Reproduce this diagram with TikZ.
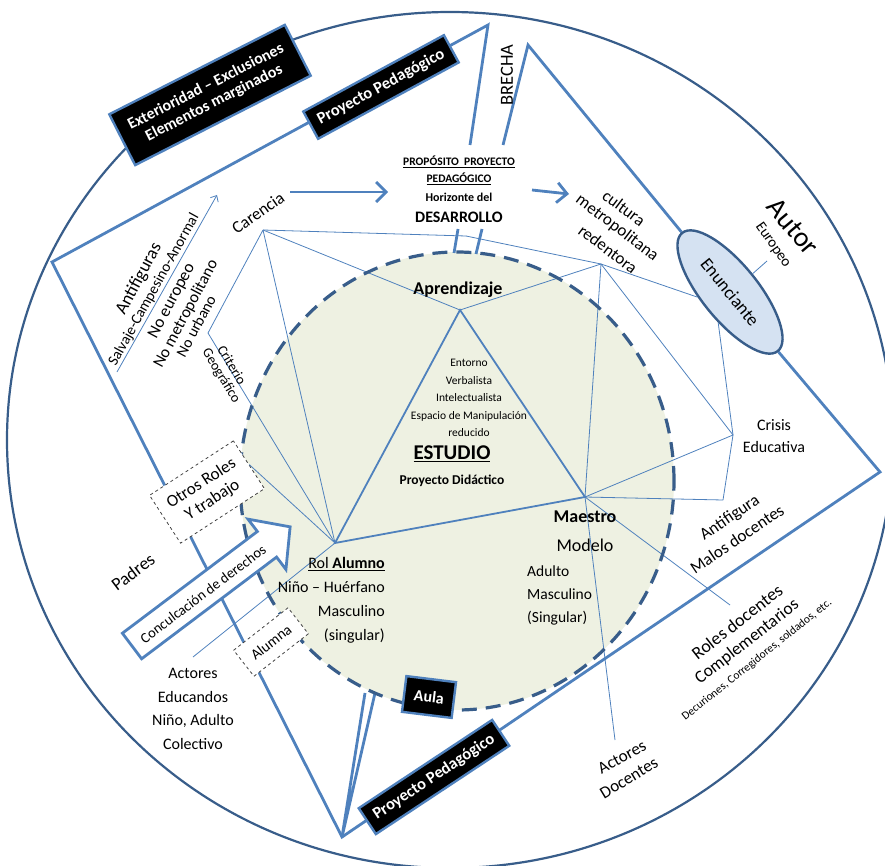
\documentclass[tikz,border=0pt]{standalone}
\usepackage{fontspec}
\setmainfont{Carlito}
\usetikzlibrary{positioning, shapes.geometric, arrows.meta, calc}

\definecolor{lineblue}{RGB}{79,129,189}
\definecolor{ringblue}{RGB}{56,93,138}
\definecolor{aulafill}{RGB}{238,241,226}
\definecolor{enunfill}{RGB}{213,226,242}

\tikzset{
  sz/.style 2 args={font=\fontsize{#1}{#2}\selectfont},
  bsz/.style 2 args={font=\fontsize{#1}{#2}\selectfont\bfseries},
  txt/.style={inner sep=1pt, align=center},
  thickline/.style={draw=lineblue, line width=2.8pt},
  midline/.style={draw=lineblue, line width=1.8pt},
  thinline/.style={draw=lineblue, line width=0.8pt},
  blackbox/.style={draw=lineblue, line width=2.4pt, fill=black, text=white, align=center, inner sep=2pt},
  dashbox/.style={draw=black!75, dashed, line width=0.8pt, fill=white, align=center, inner sep=1pt},
}

\begin{document}
\begin{tikzpicture}[x=1pt, y=-1pt]
  \useasboundingbox (0,0) rectangle (885,866);

  % Rings
  \draw[ringblue, line width=2.2pt] (450,440) ellipse [x radius=443pt, y radius=428pt];
  \fill[aulafill] (457,481) ellipse [x radius=217pt, y radius=229pt];

  % Points
  \foreach \n/\p in {car/{263,230}, des/{466,236}, apr/{460,310}, cul/{601,264},
                     geo/{208,333}, alu/{335,543}, mae/{585,497}, cri/{733,435},
                     mal/{723,500}, rdl/{730,605}, adl/{615,740}, ael/{193,657},
                     eul/{767,261}, ar1s/{290,192}, ar1e/{388,192}, ar2s/{532,190},
                     ar2e/{569,194}, afs/{117,372}, afe/{217,195}}
  \coordinate (\n) at (\p);
  \foreach \n/\p in {pa/{52,262}, pb/{488,25}, pc/{470,145}, pd/{503,145},
                     pe/{528,45}, pf/{880,472}, pg/{342,837},
                     pc1/{458,229}, pc2/{454,253}, pd1/{482,229}, pd2/{476,254},
                     pg1/{365,693}, pg2/{375,693}}
  \coordinate (\n) at (\p);

  % Enunciante
  \node[ellipse, draw=ringblue, line width=2.4pt, fill=enunfill, rotate=-51,
        minimum width=152pt, minimum height=56pt, inner sep=0pt, sz={18}{20}] (enun) at (730,292) {Enunciante};

  % Proyecto pedagogico
  \draw[thickline] (pc) -- (pb) -- (pa) -- (pg) -- (pf) -- (enun.east);
  \draw[thickline] (enun.west) -- (pe) -- (pd);
  \draw[thickline] (pc1) -- (pc2);
  \draw[thickline] (pd1) -- (pd2);
  \draw[thickline] (pg1) -- (pg) -- (pg2);

  % Thin links
  \foreach \a/\b in {car/des, des/cul, car/apr, apr/cul, car/geo, car/alu, geo/alu,
                     cul/cri, cul/mae, cri/mae, cri/mal, mal/mae, mae/rdl, mae/adl, alu/ael}
  \draw[thinline] (\a) -- (\b);
  \draw[thinline] (cul) -- (enun.-120);
  \draw[thinline] (enun.-60) -- (cri);
  \draw[thinline] (eul) -- (enun.north);
  \draw[midline] (apr) -- (alu) -- (mae) -- cycle;

  % Aula border
  \draw[ringblue, line width=3.2pt, dash pattern=on 15pt off 9pt] (457,481) ellipse [x radius=217pt, y radius=229pt];

  % Arrows
  \draw[thickline, -{Straight Barb[length=10pt, width=20pt]}] (ar1s) -- (ar1e);
  \draw[thickline, -{Straight Barb[length=10pt, width=20pt]}] (ar2s) -- (ar2e);
  \draw[thinline, -{Straight Barb[length=5pt, width=9pt]}] (afs) -- (afe);

  % Black labels
  \node[blackbox, bsz={16}{18}, rotate=27, minimum width=197pt, minimum height=57pt] (extb) at (210,95) {Exterioridad – Exclusiones\\Elementos marginados};
  \node[blackbox, bsz={16.5}{19}, rotate=28.5, minimum width=160pt, minimum height=31pt] (ppt) at (381,87) {Proyecto Pedagógico};
  \node[blackbox, bsz={16.5}{19}, rotate=33.5, minimum width=160pt, minimum height=31pt] (ppb) at (434,777) {Proyecto Pedagógico};
  \node[blackbox, bsz={16}{19}, rotate=-7, minimum width=50pt, minimum height=36pt] (aula) at (429,697) {Aula};

  % Dashed boxes and big arrow
  \node[dashbox, sz={17}{20}, rotate=33, minimum width=100pt, minimum height=57pt] (otr) at (207,492) {Otros Roles\\Y trabajo};
  \draw[thinline] (alu) -- (otr.east);
  \begin{scope}[shift={(132,646)}, rotate=37]
    \draw[thickline, fill=white, line join=miter] (0,-16) -- (169,-16) -- (169,-31.5) -- (198,0)
      -- (169,31.5) -- (169,16) -- (0,16) -- cycle;
  \end{scope}
  \node[txt, sz={14.5}{17}, rotate=37] (concul) at (203,594) {Conculcación de derechos};
  \node[dashbox, sz={15}{17}, rotate=38, minimum width=69pt, minimum height=33pt] (alna) at (271,642) {Alumna};

  % Top texts
  \node[txt, sz={18.5}{20}, rotate=90] (brecha) at (507,75) {BRECHA};
  \node[txt, bsz={11.5}{13}] (prop1) at (459,162) {\underline{PROPÓSITO\ \ PROYECTO}};
  \node[txt, bsz={11.5}{13}] (prop2) at (459,179) {\underline{PEDAGÓGICO}};
  \node[txt, bsz={12}{14}] (prop3) at (459,197) {Horizonte del};
  \node[txt, bsz={16}{19}] (prop4) at (459,217) {DESARROLLO};
  \node[txt, sz={17}{20}, rotate=35] (cartxt) at (258,213) {Carencia};
  \node[txt, sz={17}{20}, rotate=-37] (cul1) at (624,208) {cultura};
  \node[txt, sz={17}{20}, rotate=-37] (cul2) at (617,228) {metropolitana};
  \node[txt, sz={17}{20}, rotate=-37] (cul3) at (608,249) {redentora};
  \node[txt, sz={28}{30}, rotate=-50] (autor) at (793,227) {Autor};
  \node[txt, sz={15}{17}, rotate=-55] (eurtxt) at (773,245) {Europeo};

  % Left texts
  \node[txt, sz={18}{20}, rotate=62] (anti) at (139,279) {Antifiguras};
  \node[txt, sz={15}{17}, rotate=61] (salv) at (154,290) {Salvaje-Campesino-Anormal};
  \node[txt, sz={17}{19}, rotate=62] (noeu) at (172,301) {No europeo};
  \node[txt, sz={16.5}{19}, rotate=62] (nome) at (186,314) {No metropolitano};
  \node[txt, sz={15.5}{18}, rotate=62] (nour) at (196,326) {No urbano};
  \node[txt, sz={14}{16}, rotate=-59] (crit) at (232,365) {Criterio};
  \node[txt, sz={14}{16}, rotate=-59] (geog) at (221,376) {Geográfico};
  \node[txt, sz={18}{20}, rotate=37] (padres) at (133,572) {Padres};
  \node[txt, sz={16}{23.5}] (acted) at (193,709) {Actores\\Educandos\\Niño, Adulto\\Colectivo};

  % Inner texts
  \node[txt, bsz={18}{20}] (aprtxt) at (458,290) {Aprendizaje};
  \node[txt, sz={11.5}{17.5}] (ento) at (469,398) {Entorno\\Verbalista\\Intelectualista\\Espacio de Manipulación\\reducido};
  \node[txt, bsz={21}{24}] (estu) at (452,454) {\underline{ESTUDIO}};
  \node[txt, bsz={13.5}{16}] (pdid) at (452,481) {Proyecto Didáctico};
  \node[txt, sz={16}{24}, align=right, anchor=east] (rolal) at (386,600) {\underline{Rol \textbf{Alumno}}\\Niño – Huérfano\\Masculino\\(singular)};
  \node[txt, bsz={18}{20}] (maetxt) at (585,517) {Maestro};
  \node[txt, sz={18}{20}] (modelo) at (585,545) {Modelo};
  \node[txt, sz={15.5}{23}, align=left, anchor=west] (adul) at (526,595) {Adulto\\Masculino\\(Singular)};

  % Right texts
  \node[txt, sz={16}{22}] (cris) at (774,436) {Crisis\\Educativa};
  \node[txt, sz={17}{20}, rotate=34] (antf) at (730,518) {Antifigura};
  \node[txt, sz={17}{20}, rotate=34] (malos) at (737,539) {Malos docentes};
  \node[txt, sz={18}{20}, rotate=38] (roles) at (737,622) {Roles docentes};
  \node[txt, sz={17.5}{20}, rotate=38] (compl) at (747,642) {Complementarios};
  \node[txt, sz={11.5}{13}, rotate=38.5] (decu) at (757,660) {Decuriones, Corregidores, soldados, etc.};
  \node[txt, sz={17}{20}, rotate=29] (actd1) at (622,757) {Actores};
  \node[txt, sz={17}{20}, rotate=31] (actd2) at (629,778) {Docentes};
\end{tikzpicture}
\end{document}
